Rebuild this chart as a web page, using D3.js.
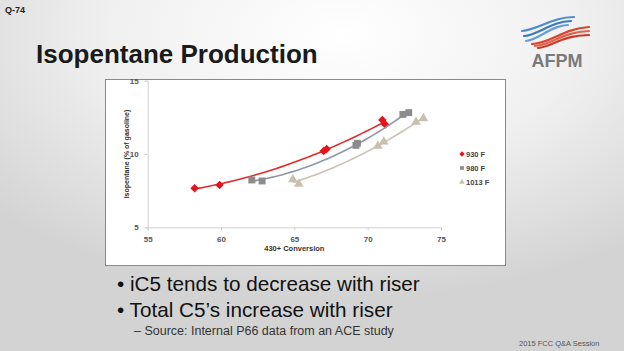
<!DOCTYPE html>
<html>
<head>
<meta charset="utf-8">
<script src="https://cdn.jsdelivr.net/npm/d3@7"></script>
<style>
  html, body { margin: 0; padding: 0; }
  body { width: 624px; height: 351px; overflow: hidden; font-family: "Liberation Sans", Arial, sans-serif; }
</style>
</head>
<body>
<div id="slide"></div>
<script>
// series
const series = ["930 F", "980 F", "1013 F"];
const x930 = [58.2, 59.9, 67.0, 67.2, 71.0, 71.2];
const y930 = [7.66, 7.89, 10.2, 10.34, 12.32, 12.02];
const x980 = [62.1, 62.8, 69.2, 69.3, 72.4, 72.8];
const y980 = [8.23, 8.16, 10.59, 10.73, 12.7, 12.82];
const x1013 = [64.9, 65.3, 70.7, 71.1, 73.3, 73.8];
const y1013 = [8.27, 7.95, 10.55, 10.84, 12.18, 12.43];
const xTicks = [55, 60, 65, 70, 75];
const yTicks = [5, 10, 15];
const bullets = ["iC5 tends to decrease with riser", "Total C5\u2019s increase with riser"];

const width = 624, height = 351;

const svg = d3.select("#slide")
  .append("svg")
  .attr("width", width)
  .attr("height", height);

// slide background
const defs = svg.append("defs");
const bg = defs.append("radialGradient")
  .attr("id", "bg")
  .attr("cx", "0.55").attr("cy", "0.1").attr("r", "0.75");
bg.append("stop").attr("offset", "0").attr("stop-color", "#ffffff");
bg.append("stop").attr("offset", "0.5").attr("stop-color", "#f0f0f0");
bg.append("stop").attr("offset", "1").attr("stop-color", "#d3d3d3");

svg.append("rect")
  .attr("width", width).attr("height", height)
  .attr("fill", "url(#bg)");

svg.append("text")
  .attr("x", 5).attr("y", 13)
  .attr("font-size", 9).attr("font-weight", "bold")
  .attr("fill", "#222")
  .text("Q-74");

svg.append("text")
  .attr("x", 36).attr("y", 63)
  .attr("font-size", 26).attr("font-weight", "bold")
  .attr("fill", "#1a1a1a")
  .text("Isopentane Production");

// AFPM logo (rough)
const logo = svg.append("g").attr("fill", "none").attr("stroke-linecap", "round");
["#4f8bc8", "#3b7bbd", "#6a9ed2"].forEach((c, i) => {
  logo.append("path")
    .attr("d", `M${522 + i * 2},${31 + i * 5} C${538},${30 + i * 5} ${552},${17 + i * 4} ${574 - i * 3},${17 + i * 4}`)
    .attr("stroke", c).attr("stroke-width", 2.2);
});
["#d9452e", "#e4624a", "#c63a28"].forEach((c, i) => {
  logo.append("path")
    .attr("d", `M${532 + i * 3},${44 + i * 2} C${552},${43 + i * 2} ${562},${29 + i * 3} ${589},${27 + i * 4}`)
    .attr("stroke", c).attr("stroke-width", 2.2);
});
svg.append("text")
  .attr("x", 557).attr("y", 67)
  .attr("text-anchor", "middle")
  .attr("font-size", 18).attr("font-weight", "bold")
  .attr("fill", "#7a7a7a")
  .text("AFPM");

// chart box
svg.append("rect")
  .attr("x", 105.5).attr("y", 79.5)
  .attr("width", 400).attr("height", 186)
  .attr("fill", "#ffffff")
  .attr("stroke", "#8a8a8a");

const x = d3.scaleLinear().domain([55, 75]).range([147.7, 441]);
const y = d3.scaleLinear().domain([5, 15]).range([227.3, 80.7]);

const xAxis = svg.append("g")
  .attr("transform", `translate(0,${y(5)})`)
  .call(d3.axisBottom(x).tickValues(xTicks).tickSize(3).tickPadding(6));
const yAxis = svg.append("g")
  .attr("transform", `translate(${x(55)},0)`)
  .call(d3.axisLeft(y).tickValues(yTicks).tickSize(3).tickPadding(6));
[xAxis, yAxis].forEach(a => {
  a.select(".domain").attr("stroke", "#d0d0d0");
  a.selectAll(".tick line").attr("stroke", "#d0d0d0");
  a.selectAll("text")
    .attr("font-family", "'Liberation Sans', Arial, sans-serif")
    .attr("font-size", 8).attr("font-weight", "bold")
    .attr("fill", "#555");
});

svg.append("text")
  .attr("x", x(65)).attr("y", 251)
  .attr("text-anchor", "middle")
  .attr("font-size", 7.5).attr("font-weight", "bold")
  .attr("fill", "#333")
  .text("430+ Conversion");

svg.append("text")
  .attr("transform", `translate(128.5,${y(10)}) rotate(-90)`)
  .attr("text-anchor", "middle")
  .attr("font-size", 7).attr("font-weight", "bold")
  .attr("fill", "#333")
  .text("Isopentane (% of gasoline)");

// quadratic trendline fitted to each series
function fitQuad(xs, ys) {
  let s = [0, 0, 0, 0, 0], t = [0, 0, 0];
  xs.forEach((xv, i) => {
    for (let k = 0; k < 5; k++) s[k] += Math.pow(xv, k);
    for (let k = 0; k < 3; k++) t[k] += ys[i] * Math.pow(xv, k);
  });
  const m = [[s[0], s[1], s[2], t[0]], [s[1], s[2], s[3], t[1]], [s[2], s[3], s[4], t[2]]];
  for (let c = 0; c < 3; c++) {
    for (let r = c + 1; r < 3; r++) {
      const f = m[r][c] / m[c][c];
      for (let k = c; k < 4; k++) m[r][k] -= f * m[c][k];
    }
  }
  const b = [0, 0, 0];
  for (let r = 2; r >= 0; r--) {
    let v = m[r][3];
    for (let k = r + 1; k < 3; k++) v -= m[r][k] * b[k];
    b[r] = v / m[r][r];
  }
  return xv => b[0] + b[1] * xv + b[2] * xv * xv;
}

const groups = [
  { name: series[0], xs: x930, ys: y930, mark: "#e3151c", line: "#e52a2a", sym: d3.symbolSquare, rot: 45, size: 36 },
  { name: series[1], xs: x980, ys: y980, mark: "#8c8c8c", line: "#8f98a6", sym: d3.symbolSquare, rot: 0, size: 48 },
  { name: series[2], xs: x1013, ys: y1013, mark: "#c8bfae", line: "#c9c1b2", sym: d3.symbolTriangle, rot: 0, size: 40 }
];

const line = d3.line().x(d => x(d[0])).y(d => y(d[1]));

groups.forEach(g => {
  const f = fitQuad(g.xs, g.ys);
  const [lo, hi] = d3.extent(g.xs);
  const pts = d3.range(0, 41).map(i => {
    const xv = lo + (hi - lo) * i / 40;
    return [xv, f(xv)];
  });
  svg.append("path")
    .datum(pts)
    .attr("fill", "none")
    .attr("stroke", g.line)
    .attr("stroke-width", 1.6)
    .attr("d", line);

  svg.append("g")
    .selectAll("path")
    .data(g.xs.map((xv, i) => [xv, g.ys[i]]))
    .join("path")
    .attr("transform", d => `translate(${x(d[0])},${y(d[1])}) rotate(${g.rot})`)
    .attr("d", d3.symbol(g.sym, g.size))
    .attr("fill", g.mark);
});

// legend
const legend = svg.append("g")
  .selectAll("g")
  .data(groups)
  .join("g")
  .attr("transform", (d, i) => `translate(462,${154 + i * 14})`);
legend.append("path")
  .attr("d", d => d3.symbol(d.sym, 14)())
  .attr("transform", d => `rotate(${d.rot})`)
  .attr("fill", d => d.mark);
legend.append("text")
  .attr("x", 4).attr("y", 3)
  .attr("font-size", 7.5).attr("font-weight", "bold")
  .attr("fill", "#444")
  .text(d => d.name);

// bullets
svg.append("g")
  .selectAll("text")
  .data(bullets)
  .join("text")
  .attr("x", 117)
  .attr("y", (d, i) => 291 + i * 26)
  .attr("font-size", 20.7)
  .attr("fill", "#111")
  .text(d => "\u2022 " + d);

svg.append("text")
  .attr("x", 134).attr("y", 335)
  .attr("font-size", 12.5)
  .attr("fill", "#333")
  .text("\u2013 Source: Internal P66 data from an ACE study");

svg.append("text")
  .attr("x", 519).attr("y", 346)
  .attr("font-size", 7.5)
  .attr("fill", "#555")
  .text("2015 FCC Q&A Session");
</script>
</body>
</html>
